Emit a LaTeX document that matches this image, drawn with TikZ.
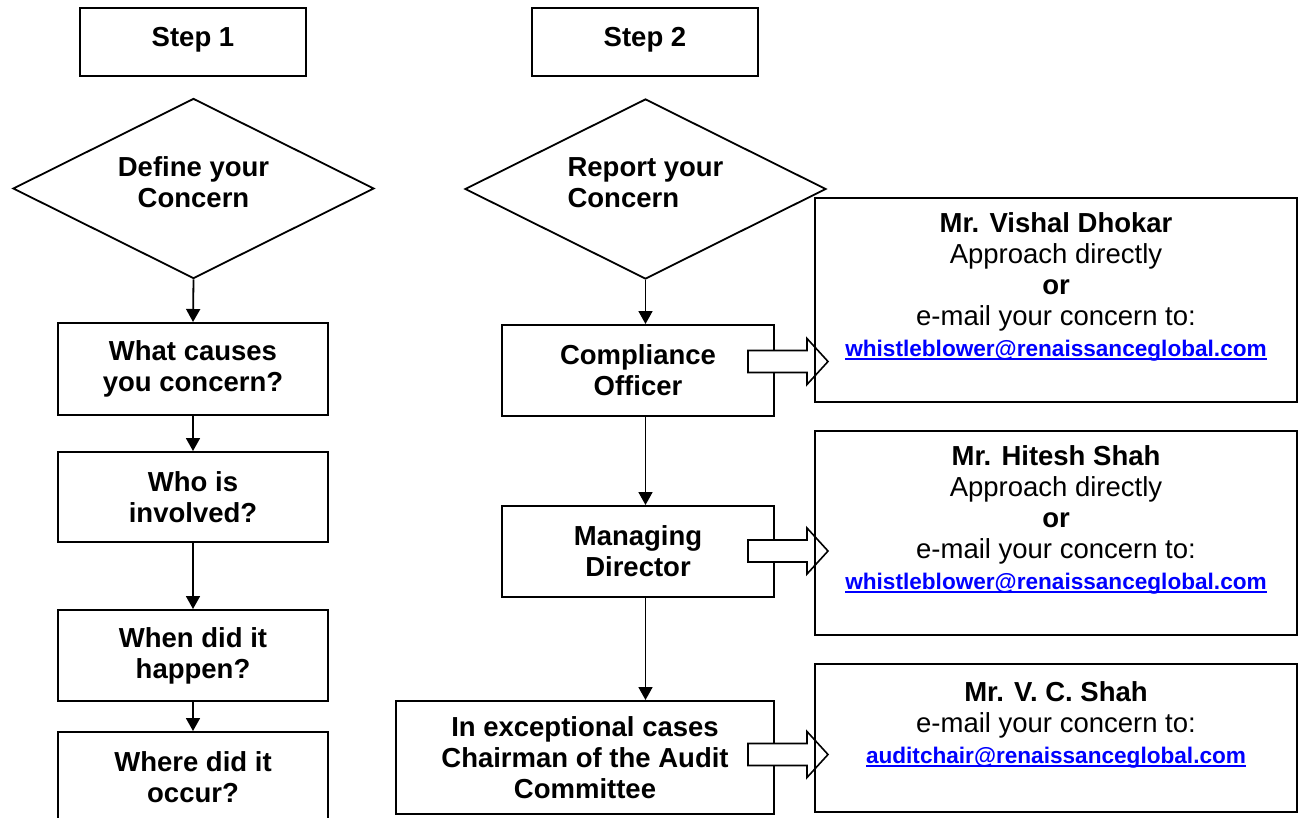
\documentclass[tikz,border=0pt]{standalone}
\usepackage{fontspec}
\setmainfont{Liberation Sans}
\usetikzlibrary{calc, arrows.meta, shapes.geometric}

\newsavebox\linkbox
\newcommand{\maillink}[1]{{\fontsize{22.6}{31}\selectfont\bfseries\color{blue}%
  \sbox\linkbox{#1}\rlap{\rule[-3.5pt]{\wd\linkbox}{2pt}}\usebox\linkbox}}

\begin{document}
\begin{tikzpicture}[x=1pt, y=-1pt,
  box/.style={draw, line width=2pt, inner sep=0pt, align=center,
    font=\fontsize{27.5}{31}\selectfont\bfseries},
  header/.style={box, minimum width=226pt, minimum height=68pt, text depth=10pt},
  contact/.style={draw, line width=2pt, inner sep=0pt, align=center,
    minimum width=482pt, font=\fontsize{27.5}{31}\selectfont},
  decide/.style={draw, diamond, aspect=2, line width=1.8pt, inner sep=0pt,
    minimum width=361pt, minimum height=180pt, text depth=12pt,
    font=\fontsize{27.5}{31}\selectfont\bfseries},
  flow/.style={-{Triangle[length=13pt, width=14pt]}, line width=1.8pt},
  hollow/.style={draw, fill=white, line width=1.6pt, line join=miter}]

\path[use as bounding box, clip] (0,0) rectangle (1298,817);
\fill[white] (0,0) rectangle (1298,817);

% --- Step headers ---
\node[header] (s1) at (193,42) {Step 1};
\node[header] (s2) at (645,42) {Step 2};

% --- Step 1: define ---
\node[decide, align=center] (d1) at (193.5,188.5) {Define your\\Concern};
\node[box, minimum width=270pt, minimum height=92pt] (wc) at (193,369) {What causes\\you concern?};
\node[box, minimum width=270pt, minimum height=90pt] (wi) at (193,497) {Who is\\involved?};
\node[box, minimum width=270pt, minimum height=91pt] (wh) at (193,655.5) {When did it\\happen?};
\node[box, minimum width=270pt, minimum height=91pt] (wo) at (193,777.5) {Where did it\\occur?};

\draw[flow] (d1.south) -- (wc.north);
\draw[flow] (wc.south) -- (wi.north);
\draw[flow] (wi.south) -- (wh.north);
\draw[flow] (wh.south) -- (wo.north);

% --- Step 2: report ---
\node[decide, align=left] (d2) at (645.5,189) {Report your\\Concern};
\node[box, minimum width=272pt, minimum height=91pt] (co) at (638,370.5) {Compliance\\Officer};
\node[box, minimum width=272pt, minimum height=91pt] (md) at (638,551.5) {Managing\\Director};
\node[box, minimum width=378pt, minimum height=113pt] (au) at (585,757.5) {In exceptional cases\\Chairman of the Audit\\Committee};

\draw[flow] (d2.south) -- (d2.south |- co.north);
\draw[flow] (co.south -| d2.south) -- (md.north -| d2.south);
\draw[flow] (md.south -| d2.south) -- (au.north -| d2.south);

% --- Block arrows to contacts ---
\draw[hollow] ($(co.east)+(-27,-20)$) -- ++(59,0) -- ++(0,-12) -- ++(21,23)
  -- ++(-21,23) -- ++(0,-12) -- ++(-59,0) -- cycle;
\draw[hollow] ($(md.east)+(-27,-11.5)$) -- ++(59,0) -- ++(0,-12) -- ++(21,23)
  -- ++(-21,23) -- ++(0,-12) -- ++(-59,0) -- cycle;
\draw[hollow] ($(au.east)+(-27,-14)$) -- ++(59,0) -- ++(0,-12) -- ++(21,23)
  -- ++(-21,23) -- ++(0,-12) -- ++(-59,0) -- cycle;

% --- Contacts ---
\node[contact, minimum height=204pt] (vd) at (1056,300)
  {\textbf{Mr. Vishal Dhokar}\\Approach directly\\\textbf{or}\\e-mail your concern to:\\
   \maillink{whistleblower@renaissanceglobal.com}\\~};
\node[contact, minimum height=204pt] (hs) at (1056,533)
  {\textbf{Mr. Hitesh Shah}\\Approach directly\\\textbf{or}\\e-mail your concern to:\\
   \maillink{whistleblower@renaissanceglobal.com}\\~};
\node[contact, minimum height=148pt] (vc) at (1056,738)
  {\textbf{Mr. V. C. Shah}\\e-mail your concern to:\\
   \maillink{auditchair@renaissanceglobal.com}\\~};

\end{tikzpicture}
\end{document}
